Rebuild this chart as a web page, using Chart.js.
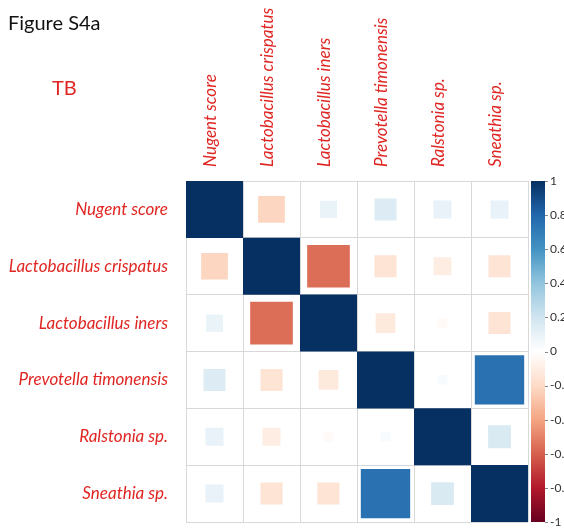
<!DOCTYPE html>
<html>
<head>
<meta charset="utf-8">
<script src="https://cdn.jsdelivr.net/npm/chart.js"></script>
<style>
  html, body { margin: 0; padding: 0; background: #fff; }
  #corrWrap { width: 564px; height: 530px; }
</style>
</head>
<body>
<div id="corrWrap"><canvas id="corrChart" width="564" height="530"></canvas></div>
<script>
const variables = ['Nugent score', 'Lactobacillus crispatus', 'Lactobacillus iners',
  'Prevotella timonensis', 'Ralstonia sp.', 'Sneathia sp.'];

// correlation rows, same order as variables
const nugentRow     = [1, -0.22, 0.09, 0.15, 0.10, 0.10];
const crispatusRow  = [-0.22, 1, -0.56, -0.15, -0.10, -0.15];
const inersRow      = [0.09, -0.56, 1, -0.12, -0.03, -0.15];
const prevotellaRow = [0.15, -0.15, -0.12, 1, 0.03, 0.75];
const ralstoniaRow  = [0.10, -0.10, -0.03, 0.03, 1, 0.16];
const sneathiaRow   = [0.10, -0.15, -0.15, 0.75, 0.16, 1];

const colorbarTicks = [-1, -0.8, -0.6, -0.4, -0.2, 0, 0.2, 0.4, 0.6, 0.8, 1];

// RdBu palette from -1 to 1
const rdbu = ['#67001F', '#B2182B', '#D6604D', '#F4A582', '#FDDBC7', '#FFFFFF',
  '#D1E5F0', '#92C5DE', '#4393C3', '#2166AC', '#053061'];

const labelRed = '#DF2622';
const labelFont = 'Lato';

function hexRgb(h) {
  return [1, 3, 5].map(i => parseInt(h.slice(i, i + 2), 16));
}

function corrColor(v) {
  const t = (v + 1) / 2 * (rdbu.length - 1);
  const i = Math.min(Math.floor(t), rdbu.length - 2);
  const f = t - i;
  const a = hexRgb(rdbu[i]), b = hexRgb(rdbu[i + 1]);
  const c = a.map((x, k) => Math.round(x + (b[k] - x) * f));
  return `rgb(${c[0]},${c[1]},${c[2]})`;
}

const rows = [nugentRow, crispatusRow, inersRow, prevotellaRow, ralstoniaRow, sneathiaRow];
const cells = [];
rows.forEach((row, i) => {
  row.forEach((v, j) => {
    cells.push({ x: variables[j], y: variables[i], v: v });
  });
});

// square side = cell size * sqrt(|r|); 'rect' points are sqrt(2)*radius wide
function squareRadius(ctx) {
  const xs = ctx.chart.scales.x;
  const cell = Math.abs(xs.getPixelForValue(1) - xs.getPixelForValue(0));
  const raw = ctx.raw;
  if (!raw) return 0;
  return cell * Math.sqrt(Math.abs(raw.v)) / Math.SQRT2;
}

// fixed axis sizes, and no extra label padding eating into the plot
function fixSize(prop, size) {
  return s => {
    s[prop] = size;
    s.paddingTop = s.paddingBottom = s.paddingLeft = s.paddingRight = 0;
  };
}

const corrDecor = {
  id: 'corrDecor',
  afterDraw(chart) {
    const ctx = chart.ctx;
    const bar = chart.scales.cbar;
    const x0 = chart.chartArea.right + 3;
    const w = 14;
    ctx.save();
    const g = ctx.createLinearGradient(0, bar.bottom, 0, bar.top);
    rdbu.forEach((c, i) => g.addColorStop(i / (rdbu.length - 1), c));
    ctx.fillStyle = g;
    ctx.fillRect(x0, bar.top, w, bar.bottom - bar.top);
    ctx.strokeStyle = '#888';
    ctx.lineWidth = 1;
    bar.ticks.forEach(t => {
      const y = Math.round(bar.getPixelForValue(t.value)) + 0.5;
      ctx.beginPath();
      ctx.moveTo(x0 + w, y);
      ctx.lineTo(x0 + w + 3, y);
      ctx.stroke();
    });
    ctx.textBaseline = 'middle';
    ctx.textAlign = 'left';
    ctx.font = `20px ${labelFont}`;
    ctx.fillStyle = '#111';
    ctx.fillText('Figure S4a', 8, 24);
    ctx.fillStyle = labelRed;
    ctx.fillText('TB', 52, 89);
    ctx.restore();
  }
};

new Chart(document.getElementById('corrChart'), {
  type: 'scatter',
  data: {
    datasets: [{
      data: cells,
      pointStyle: 'rect',
      pointRadius: squareRadius,
      pointHoverRadius: squareRadius,
      pointBorderWidth: 0,
      pointBackgroundColor: ctx => ctx.raw ? corrColor(ctx.raw.v) : '#fff'
    }]
  },
  options: {
    responsive: false,
    animation: false,
    events: [],
    layout: { padding: { top: 0, left: 0, right: 0, bottom: 8 } },
    plugins: {
      legend: { display: false },
      tooltip: { enabled: false }
    },
    scales: {
      x: {
        type: 'category',
        labels: variables,
        position: 'top',
        offset: true,
        grid: { offset: true, color: '#D8D8D8', drawTicks: false },
        border: { color: '#D8D8D8' },
        ticks: {
          minRotation: 90,
          maxRotation: 90,
          padding: 14,
          labelOffset: 16,
          color: labelRed,
          font: { family: labelFont, size: 17, style: 'italic' }
        },
        afterFit: fixSize('height', 181)
      },
      y: {
        type: 'category',
        labels: variables,
        offset: true,
        grid: { offset: true, color: '#D8D8D8', drawTicks: false },
        border: { color: '#D8D8D8' },
        ticks: {
          padding: 18,
          color: labelRed,
          font: { family: labelFont, size: 17, style: 'italic' }
        },
        afterFit: fixSize('width', 186)
      },
      cbar: {
        type: 'linear',
        position: 'right',
        min: -1,
        max: 1,
        grid: { display: false, drawTicks: false },
        border: { display: false },
        afterBuildTicks: s => { s.ticks = colorbarTicks.map(v => ({ value: v })); },
        ticks: {
          padding: 22,
          color: '#333',
          font: { family: labelFont, size: 12 },
          callback: v => String(Number(v.toFixed(1)))
        },
        afterFit: fixSize('width', 36)
      }
    }
  },
  plugins: [corrDecor]
});
</script>
</body>
</html>
